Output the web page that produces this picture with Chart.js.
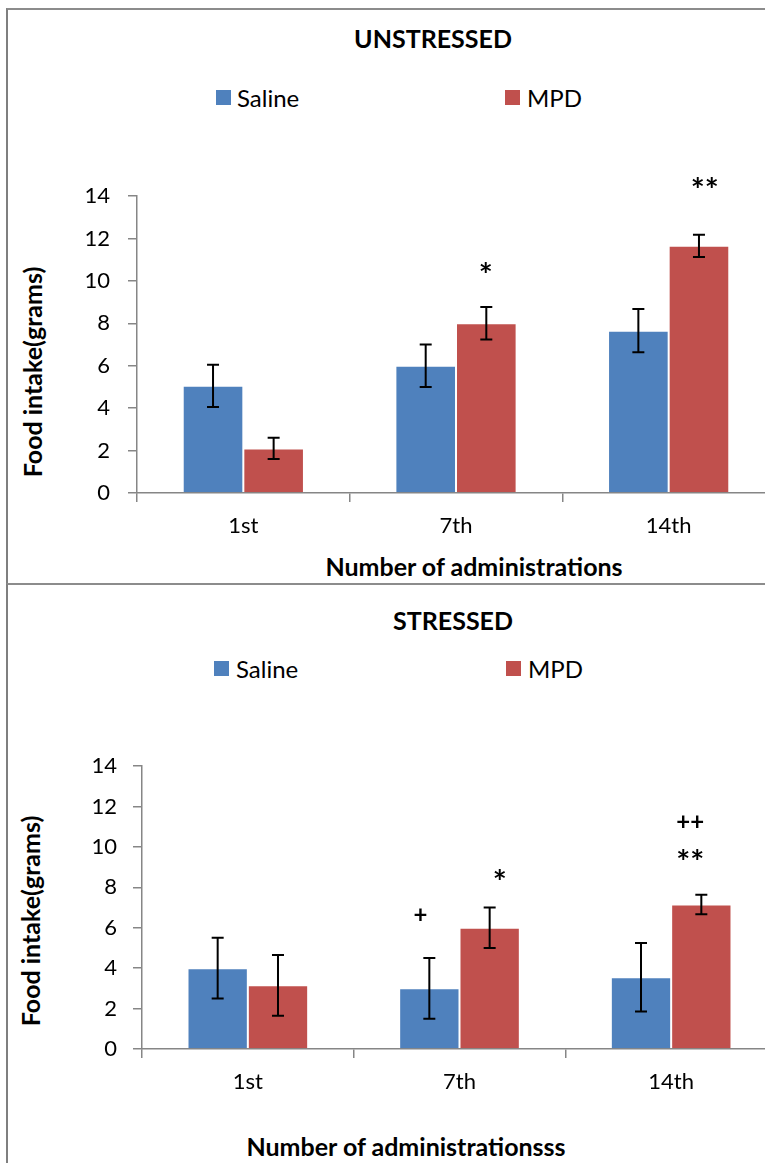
<!DOCTYPE html>
<html>
<head>
<meta charset="utf-8">
<script src="https://cdn.jsdelivr.net/npm/chart.js@4"></script>
<style>
  body { margin: 0; width: 765px; height: 1163px; overflow: hidden; background: #fff; font-family: Lato, sans-serif; position: relative; }
  .panel { position: absolute; left: 6px; width: 800px; border-top: 2px solid #8c8c8c; border-left: 2px solid #7f7f7f; }
  .txt { position: absolute; white-space: nowrap; transform: translate(-50%, -50%); color: #000; }
  .title { font-weight: bold; font-size: 25px; }
  .axt { font-weight: bold; font-size: 25px; }
  .rot { transform: translate(-50%, -50%) rotate(-90deg); }
  .leg { position: absolute; font-size: 24px; white-space: nowrap; transform: translateY(-50%); color: #000; }
  .box { position: absolute; width: 15px; height: 15px; }
  canvas { position: absolute; left: 0; }
</style>
</head>
<body>
<div class="panel" style="top:8px;height:575px"></div>
<div class="panel" style="top:583px;height:600px"></div>

<div class="txt title" style="left:433px;top:38px">UNSTRESSED</div>
<div class="box" style="left:216px;top:90px;background:#4F81BD"></div>
<div class="leg" style="left:237px;top:97px">Saline</div>
<div class="box" style="left:505px;top:90px;background:#C0504D"></div>
<div class="leg" style="left:527px;top:97px">MPD</div>
<div class="txt axt" style="left:474px;top:566px">Number of administrations</div>
<div class="txt axt rot" style="left:32px;top:372px">Food intake(grams)</div>

<div class="txt title" style="left:453px;top:620px">STRESSED</div>
<div class="box" style="left:214px;top:661px;background:#4F81BD"></div>
<div class="leg" style="left:236px;top:668px">Saline</div>
<div class="box" style="left:506px;top:661px;background:#C0504D"></div>
<div class="leg" style="left:528px;top:668px">MPD</div>
<div class="txt axt" style="left:406px;top:1146px">Number of administrationsss</div>
<div class="txt axt rot" style="left:30px;top:921px">Food intake(grams)</div>

<canvas id="unstressed" width="775" height="585" style="top:0"></canvas>
<canvas id="stressed" width="777" height="578" style="top:585px"></canvas>

<script>
const categories = ["1st", "7th", "14th"];

const unstressedSaline = [5.05, 6.0, 7.65];
const unstressedSalineErr = [1.0, 1.0, 1.02];
const unstressedMpd = [2.1, 8.0, 11.65];
const unstressedMpdErr = [0.5, 0.77, 0.52];

const stressedSaline = [4.0, 3.0, 3.55];
const stressedSalineErr = [1.5, 1.5, 1.7];
const stressedMpd = [3.15, 6.0, 7.15];
const stressedMpdErr = [1.5, 1.0, 0.48];

// significance marks: text, x in category units, y in grams
const unstressedMarks = ["*", "**"];
const unstressedMarkX = [1.14, 2.17];
const unstressedMarkY = [10.7, 14.7];

const stressedMarks = ["+", "*", "++", "**"];
const stressedMarkX = [0.815, 1.19, 2.09, 2.09];
const stressedMarkY = [6.6, 8.7, 11.2, 9.7];

const yMin = 0;
const yMax = 14;
const yStep = 2;

const errorBars = {
    id: "errorBars",
    afterDatasetsDraw(chart) {
        const ctx = chart.ctx;
        const y = chart.scales.y;
        ctx.save();
        ctx.strokeStyle = "#000";
        ctx.lineWidth = 2;
        chart.data.datasets.forEach((ds, di) => {
            const meta = chart.getDatasetMeta(di);
            meta.data.forEach((bar, i) => {
                const top = y.getPixelForValue(ds.data[i] + ds.errors[i]);
                const bottom = y.getPixelForValue(ds.data[i] - ds.errors[i]);
                ctx.beginPath();
                ctx.moveTo(bar.x, top);
                ctx.lineTo(bar.x, bottom);
                ctx.moveTo(bar.x - 6, top);
                ctx.lineTo(bar.x + 6, top);
                ctx.moveTo(bar.x - 6, bottom);
                ctx.lineTo(bar.x + 6, bottom);
                ctx.stroke();
            });
        });
        ctx.restore();
    }
};

const sigMarks = {
    id: "sigMarks",
    afterDraw(chart, args, opts) {
        const ctx = chart.ctx;
        ctx.save();
        ctx.fillStyle = "#000";
        ctx.textAlign = "center";
        ctx.textBaseline = "middle";
        opts.labels.forEach((label, i) => {
            const px = chart.scales.x.getPixelForValue(opts.xs[i]);
            let py = chart.scales.y.getPixelForValue(opts.ys[i]);
            if (label.indexOf("*") >= 0) {
                ctx.font = "bold 33px Lato";
                py += 10; // asterisk sits high in the glyph box
            } else {
                ctx.font = "bold 24px Lato";
            }
            ctx.fillText(label, px, py);
        });
        ctx.restore();
    }
};

function makeChart(id, saline, salineErr, mpd, mpdErr, marks, markX, markY, leftWidth, topPad, xHeight, tickPad) {
    const ctx = document.getElementById(id).getContext("2d");
    const axisColor = "#868686";
    const tickFont = { family: "Lato", size: 22 };
    return new Chart(ctx, {
        type: "bar",
        data: {
            labels: categories,
            datasets: [
                { label: "Saline", data: saline, errors: salineErr, backgroundColor: "#4F81BD",
                  borderColor: "rgba(255,255,255,0.5)", borderWidth: 1, categoryPercentage: 0.57, barPercentage: 1 },
                { label: "MPD", data: mpd, errors: mpdErr, backgroundColor: "#C0504D",
                  borderColor: "rgba(255,255,255,0.5)", borderWidth: 1, categoryPercentage: 0.57, barPercentage: 1 }
            ]
        },
        options: {
            responsive: false,
            animation: false,
            layout: { padding: { left: 0, right: 0, top: topPad, bottom: 0 } },
            plugins: {
                legend: { display: false },
                tooltip: { enabled: false },
                sigMarks: { labels: marks, xs: markX, ys: markY }
            },
            scales: {
                x: {
                    grid: { drawOnChartArea: false, tickLength: 9, color: axisColor, lineWidth: 1.5 },
                    border: { color: axisColor, width: 1.5 },
                    ticks: { font: tickFont, color: "#000", padding: 11 },
                    afterFit: (s) => { s.height = xHeight; }
                },
                y: {
                    min: yMin,
                    max: yMax,
                    grid: { drawOnChartArea: false, tickLength: 9, color: axisColor, lineWidth: 1.5 },
                    border: { color: axisColor, width: 1.5 },
                    ticks: { stepSize: yStep, font: tickFont, color: "#000", padding: tickPad },
                    afterFit: (s) => { s.width = leftWidth; }
                }
            }
        },
        plugins: [errorBars, sigMarks]
    });
}

makeChart("unstressed", unstressedSaline, unstressedSalineErr, unstressedMpd, unstressedMpdErr,
    unstressedMarks, unstressedMarkX, unstressedMarkY, 137, 196, 92, 18);
makeChart("stressed", stressedSaline, stressedSalineErr, stressedMpd, stressedMpdErr,
    stressedMarks, stressedMarkX, stressedMarkY, 142, 181, 114, 16);
</script>
</body>
</html>
